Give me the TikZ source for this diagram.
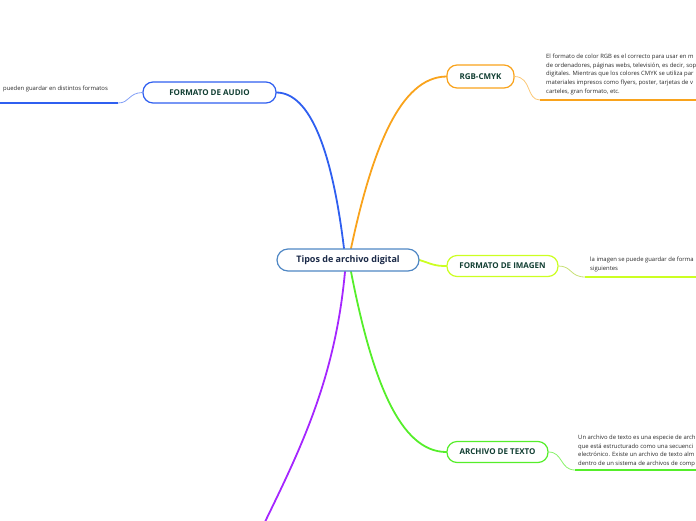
\documentclass[tikz,border=0pt]{standalone}
\usepackage{fontspec}
\setmainfont{Open Sans}
\definecolor{cblue}{HTML}{2F5FF0}
\definecolor{corange}{HTML}{F9A31C}
\definecolor{clime}{HTML}{CCFF22}
\definecolor{cgreen}{HTML}{55EE2A}
\definecolor{cpurple}{HTML}{A526FF}
\definecolor{cborder}{HTML}{4F87C4}
\definecolor{ctext}{HTML}{123F33}
\definecolor{cnavy}{HTML}{1B2A48}
\definecolor{cnote}{HTML}{2A2A2A}
\pgfdeclarelayer{bg}
\pgfsetlayers{bg,main}
\tikzset{
  topic/.style={draw, fill=white, rounded corners=10pt, line width=1.2pt, text=ctext,
    font=\bfseries\fontsize{8}{9.5}\selectfont, inner sep=0pt, minimum height=21pt},
  central/.style={draw=cborder, fill=white, rounded corners=11pt, line width=1.2pt, text=cnavy,
    font=\bfseries\fontsize{9}{11}\selectfont, minimum width=142pt, minimum height=22pt, inner sep=0pt},
  branch/.style={line width=1.8pt, line cap=round},
  twig/.style={line width=0.8pt},
  under/.style={line width=1.8pt},
  note/.style={text=cnote, font=\fontsize{5.9}{8.6}\selectfont, align=left, inner sep=0pt}
}
\begin{document}
\begin{tikzpicture}[x=1pt,y=-1pt]
\useasboundingbox (0,0) rectangle (696,520);
\clip (0,0) rectangle (696,520);
% nodes
\node[central] (c) at (348,260) {Tipos de archivo digital};
\node[topic, draw=cblue, minimum width=133pt] (audio) at (209.5,92.5) {FORMATO DE AUDIO};
\node[topic, draw=corange, minimum width=67pt, minimum height=23pt] (rgb) at (480.5,76.5) {RGB-CMYK};
\node[topic, draw=clime, minimum width=111pt] (img) at (502.5,266) {FORMATO DE IMAGEN};
\node[topic, draw=cgreen, minimum width=101pt] (txt) at (497.5,452) {ARCHIVO DE TEXTO};
% coordinates
\coordinate (pend) at (262,528);
\coordinate (a1) at (118,103);
\coordinate (a2) at (0,103);
\coordinate (r1) at (540,100);
\coordinate (r2) at (696,100);
\coordinate (i1) at (585,277);
\coordinate (i2) at (696,277);
\coordinate (t1) at (575,470);
\coordinate (t2) at (696,470);
% main branches
\begin{pgfonlayer}{bg}
\draw[branch, cblue] ([xshift=-4pt]c.north) .. controls (332,150) and (310,93) .. (audio.east);
\draw[branch, corange] ([xshift=3pt]c.north) .. controls (372,150) and (400,77) .. (rgb.west);
\draw[branch, clime] (c.east) .. controls (432,264) and (434,266) .. (img.west);
\draw[branch, cgreen] ([xshift=3pt]c.south) .. controls (372,380) and (400,452) .. (txt.west);
\draw[branch, cpurple] ([xshift=-3pt]c.south) .. controls (335,380) and (300,450) .. (pend);
\end{pgfonlayer}
% twigs and underlines
\draw[twig, cblue!60] (audio.west) .. controls (128,93) and (130,103) .. (a1);
\draw[under, cblue] (a1) -- (a2);
\draw[twig, corange!60] (rgb.east) .. controls (532,77) and (526,100) .. (r1);
\draw[under, corange] (r1) -- (r2);
\draw[twig, clime!80!black!60] (img.east) .. controls (572,266) and (570,277) .. (i1);
\draw[under, clime] (i1) -- (i2);
\draw[twig, cgreen!70] (txt.east) .. controls (563,452) and (560,470) .. (t1);
\draw[under, cgreen] (t1) -- (t2);
% notes
\node[note, anchor=base west] (na) at (3,90) {pueden guardar en distintos formatos};
\node[note, anchor=north west] (nr) at (546,54) {El formato de color RGB es el correcto para usar en m\\de ordenadores, páginas webs, televisión, es decir, sop\\digitales. Mientras que los colores CMYK se utiliza par\\materiales impresos como flyers, poster, tarjetas de v\\carteles, gran formato, etc.};
\node[note, anchor=north west] (ni) at (590,257) {la imagen se puede guardar de forma\\siguientes};
\node[note, anchor=north west] (nt) at (578,435) {Un archivo de texto es una especie de arch\\que está estructurado como una secuenci\\electrónico. Existe un archivo de texto alm\\dentro de un sistema de archivos de comp};
\end{tikzpicture}
\end{document}
